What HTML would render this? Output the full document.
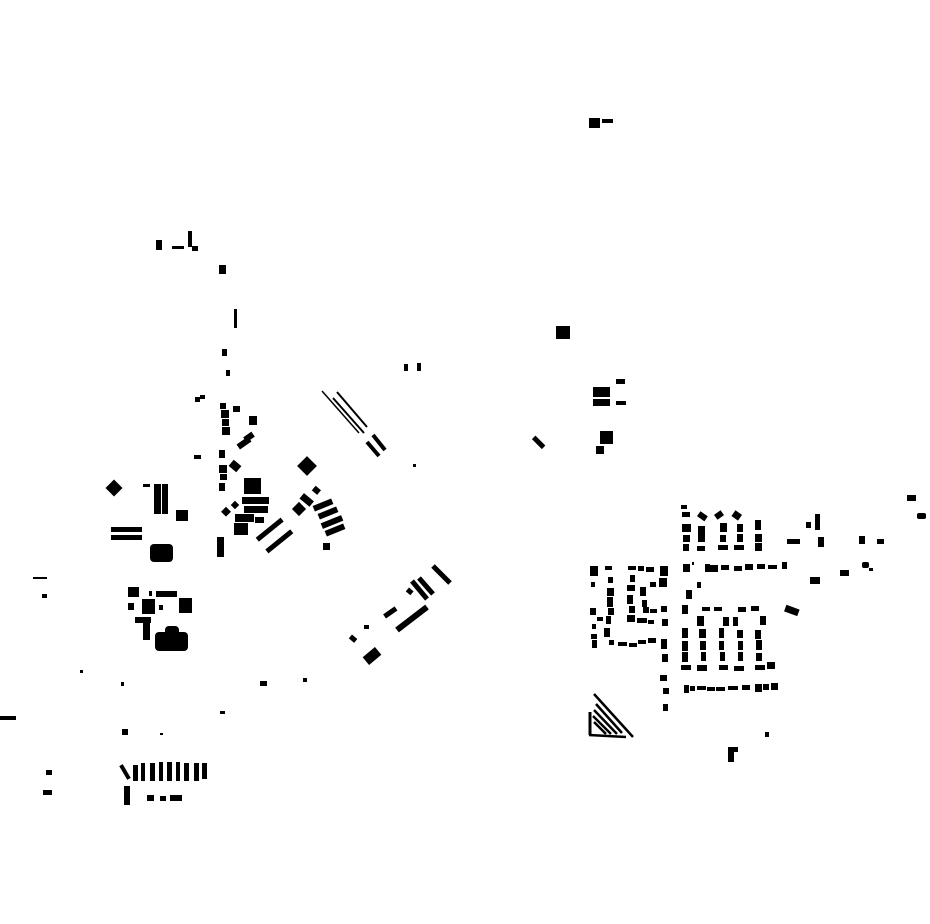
<!DOCTYPE html>
<html><head><meta charset="utf-8"><style>html,body{margin:0;padding:0;background:#fff}svg{display:block}</style></head>
<body>
<svg width="930" height="924" viewBox="0 0 930 924" xmlns="http://www.w3.org/2000/svg">
<g fill="#000">
<rect x="589" y="118" width="11" height="10"/><rect x="602" y="119" width="11" height="4"/>
<rect x="156" y="240" width="6" height="10"/><rect x="172" y="246" width="12" height="3"/><rect x="188" y="231" width="4" height="16"/><rect x="192" y="246" width="6" height="5"/>
<rect x="219" y="265" width="7" height="9"/><rect x="234" y="309" width="3" height="19"/>
<rect x="222" y="349" width="5" height="7"/><rect x="226" y="370" width="4" height="6"/>
<rect x="404" y="364" width="4" height="7"/><rect x="417" y="363" width="4" height="8"/>
<rect x="556" y="326" width="14" height="13"/>
<rect x="593" y="387" width="17" height="10"/><rect x="616" y="379" width="9" height="5"/><rect x="616" y="401" width="10" height="4"/><rect x="593" y="399" width="17" height="7"/>
<rect x="532" y="440" width="14" height="5" transform="rotate(45 539 442)"/>
<rect x="600" y="431" width="13" height="13"/><rect x="596" y="446" width="8" height="8"/>
<rect x="413" y="464" width="3" height="3"/>
<rect x="195" y="397" width="5" height="5"/><rect x="200" y="395" width="5" height="4"/>
<rect x="220" y="403" width="6" height="6"/><rect x="221" y="410" width="8" height="8"/><rect x="222" y="419" width="7" height="7"/><rect x="222" y="427" width="8" height="8"/>
<rect x="233" y="406" width="7" height="6"/><rect x="249" y="416" width="8" height="9"/>
<rect x="237" y="440" width="14" height="6" transform="rotate(-35 244 443)"/><rect x="244" y="434" width="10" height="6" transform="rotate(-35 249 437)"/>
<rect x="194" y="455" width="7" height="4"/>
<rect x="219" y="450" width="6" height="8"/><rect x="219" y="465" width="8" height="8"/><rect x="220" y="474" width="7" height="6"/><rect x="219" y="483" width="6" height="8"/>
<rect x="230" y="462" width="10" height="8" transform="rotate(40 235 466)"/>
<rect x="108" y="482" width="12" height="12" transform="rotate(45 114 488)"/>
<rect x="143" y="484" width="7" height="3"/>
<rect x="154" y="484" width="7" height="30"/><rect x="162" y="484" width="6" height="30"/>
<rect x="176" y="510" width="12" height="11"/>
<rect x="111" y="527" width="31" height="5"/><rect x="111" y="535" width="31" height="5"/>
<rect x="150" y="544" width="23" height="18" rx="4"/>
<rect x="244" y="478" width="17" height="16"/>
<rect x="242" y="497" width="27" height="7"/><rect x="244" y="506" width="24" height="7"/>
<rect x="235" y="514" width="19" height="8"/><rect x="255" y="517" width="9" height="6"/>
<rect x="234" y="523" width="14" height="12"/>
<rect x="223" y="508" width="7" height="7" transform="rotate(45 226 511)"/><rect x="232" y="502" width="6" height="6" transform="rotate(45 235 505)"/>
<rect x="217" y="537" width="7" height="20"/>
<rect x="254" y="527" width="32" height="5" transform="rotate(-39 270 530)"/>
<rect x="263" y="539" width="32" height="5" transform="rotate(-39 279 541)"/>
<rect x="300" y="459" width="14" height="14" transform="rotate(45 307 466)"/>
<rect x="300" y="496" width="13" height="7" transform="rotate(40 306 500)"/><rect x="313" y="487" width="7" height="6" transform="rotate(40 316 490)"/>
<rect x="294" y="504" width="10" height="10" transform="rotate(45 299 509)"/>
<rect x="313" y="502" width="20" height="6" transform="rotate(-22 323 505)"/>
<rect x="318" y="510" width="20" height="6" transform="rotate(-22 328 513)"/>
<rect x="321" y="519" width="22" height="6" transform="rotate(-22 332 522)"/>
<rect x="325" y="527" width="20" height="6" transform="rotate(-22 335 530)"/>
<rect x="323" y="543" width="7" height="7"/>
<line x1="322" y1="391" x2="359" y2="433" stroke="#000" stroke-width="1.5"/>
<line x1="337" y1="392" x2="367" y2="427" stroke="#000" stroke-width="2"/>
<line x1="333" y1="398" x2="364" y2="433" stroke="#000" stroke-width="2"/>
<line x1="367" y1="442" x2="379" y2="456" stroke="#000" stroke-width="4"/>
<line x1="373" y1="435" x2="385" y2="450" stroke="#000" stroke-width="4"/>
<line x1="433" y1="566" x2="450" y2="583" stroke="#000" stroke-width="5"/>
<line x1="412" y1="581" x2="427" y2="599" stroke="#000" stroke-width="5"/>
<line x1="419" y1="578" x2="433" y2="594" stroke="#000" stroke-width="5"/>
<rect x="407" y="589" width="6" height="5" transform="rotate(40 410 591)"/>
<line x1="397" y1="630" x2="427" y2="607" stroke="#000" stroke-width="6"/>
<rect x="383" y="610" width="14" height="5" transform="rotate(-35 390 612)"/>
<rect x="364" y="625" width="5" height="4"/><rect x="350" y="636" width="7" height="5" transform="rotate(40 353 638)"/>
<rect x="364" y="651" width="16" height="10" transform="rotate(-40 372 656)"/>
<rect x="128" y="587" width="11" height="10"/><rect x="128" y="603" width="6" height="7"/>
<rect x="142" y="599" width="13" height="15"/><rect x="149" y="591" width="3" height="5"/>
<rect x="156" y="591" width="21" height="6"/><rect x="159" y="605" width="4" height="5"/>
<rect x="179" y="598" width="13" height="15"/>
<rect x="135" y="617" width="16" height="6"/><rect x="143" y="620" width="7" height="20"/>
<rect x="155" y="632" width="33" height="19" rx="4"/><rect x="165" y="626" width="14" height="10" rx="4"/>
<rect x="33" y="577" width="14" height="2"/><rect x="42" y="594" width="5" height="4"/>
<rect x="80" y="670" width="3" height="3"/><rect x="121" y="682" width="3" height="4"/>
<rect x="0" y="716" width="16" height="4"/><rect x="122" y="729" width="6" height="6"/><rect x="160" y="733" width="3" height="2"/>
<rect x="220" y="711" width="5" height="3"/><rect x="260" y="681" width="7" height="5"/><rect x="303" y="678" width="4" height="4"/>
<rect x="46" y="770" width="6" height="5"/><rect x="43" y="790" width="9" height="5"/>
<rect x="123" y="764" width="4" height="16" transform="rotate(-30 125 772)"/>
<rect x="133" y="765" width="5" height="16"/><rect x="141" y="763" width="4" height="18"/><rect x="150" y="763" width="5" height="18"/>
<rect x="159" y="762" width="4" height="19"/><rect x="167" y="762" width="5" height="19"/><rect x="176" y="762" width="4" height="19"/>
<rect x="184" y="763" width="5" height="18"/><rect x="194" y="763" width="5" height="18"/><rect x="202" y="763" width="5" height="16"/>
<rect x="124" y="786" width="6" height="19"/><rect x="147" y="795" width="7" height="6"/><rect x="160" y="796" width="6" height="5"/><rect x="170" y="795" width="12" height="6"/>
<rect x="681" y="505" width="6" height="4"/><rect x="682" y="512" width="8" height="5"/>
<rect x="698" y="513" width="9" height="6" transform="rotate(35 702 516)"/><rect x="715" y="512" width="8" height="6" transform="rotate(-35 719 515)"/><rect x="733" y="512" width="8" height="7" transform="rotate(35 737 515)"/>
<rect x="682" y="524" width="9" height="8"/><rect x="698" y="526" width="7" height="8"/><rect x="720" y="523" width="7" height="9"/><rect x="737" y="524" width="6" height="8"/><rect x="755" y="520" width="6" height="10"/>
<rect x="683" y="535" width="7" height="7"/><rect x="698" y="533" width="7" height="9"/><rect x="720" y="535" width="6" height="7"/><rect x="737" y="534" width="6" height="8"/><rect x="755" y="534" width="7" height="8"/>
<rect x="683" y="544" width="6" height="7"/><rect x="697" y="546" width="8" height="5"/><rect x="718" y="545" width="10" height="5"/><rect x="734" y="545" width="10" height="5"/><rect x="755" y="543" width="7" height="8"/>
<rect x="787" y="539" width="13" height="5"/><rect x="806" y="522" width="5" height="6"/><rect x="815" y="514" width="5" height="16"/><rect x="818" y="537" width="6" height="10"/>
<rect x="859" y="536" width="6" height="8"/><rect x="877" y="539" width="7" height="5"/>
<rect x="907" y="495" width="9" height="6"/><rect x="917" y="513" width="9" height="6" rx="2"/>
<rect x="683" y="564" width="7" height="8"/><rect x="692" y="562" width="2" height="3"/><rect x="705" y="564" width="5" height="8"/><rect x="710" y="565" width="8" height="7"/>
<rect x="721" y="565" width="8" height="5"/><rect x="745" y="564" width="8" height="6"/><rect x="734" y="566" width="8" height="5"/><rect x="757" y="564" width="8" height="5"/>
<rect x="768" y="565" width="9" height="4"/><rect x="782" y="562" width="5" height="7"/>
<rect x="810" y="577" width="10" height="7"/><rect x="840" y="570" width="9" height="6"/><rect x="862" y="562" width="7" height="6" rx="2"/><rect x="869" y="568" width="4" height="3"/>
<rect x="785" y="607" width="14" height="7" transform="rotate(20 792 610)"/>
<rect x="697" y="582" width="4" height="6"/><rect x="686" y="590" width="6" height="9"/>
<rect x="590" y="566" width="8" height="10"/><rect x="605" y="566" width="7" height="4"/><rect x="628" y="566" width="8" height="4"/><rect x="638" y="566" width="6" height="5"/><rect x="646" y="567" width="8" height="5"/><rect x="660" y="566" width="8" height="10"/>
<rect x="591" y="582" width="4" height="5"/><rect x="608" y="577" width="5" height="6"/><rect x="630" y="575" width="5" height="7"/>
<rect x="607" y="588" width="7" height="8"/><rect x="627" y="585" width="8" height="6"/><rect x="650" y="582" width="6" height="5"/><rect x="659" y="578" width="8" height="9"/>
<rect x="607" y="597" width="6" height="10"/><rect x="627" y="595" width="6" height="9"/><rect x="640" y="587" width="6" height="9"/><rect x="642" y="600" width="5" height="7"/>
<rect x="608" y="608" width="6" height="7"/><rect x="629" y="606" width="6" height="7"/><rect x="643" y="607" width="6" height="6"/>
<rect x="590" y="608" width="6" height="7"/><rect x="597" y="617" width="6" height="4"/><rect x="661" y="606" width="6" height="6"/><rect x="650" y="609" width="7" height="4"/>
<rect x="606" y="616" width="5" height="8"/><rect x="627" y="615" width="8" height="7"/><rect x="637" y="618" width="10" height="5"/><rect x="648" y="620" width="6" height="4"/><rect x="662" y="619" width="6" height="7"/>
<rect x="592" y="624" width="4" height="5"/><rect x="591" y="634" width="6" height="5"/><rect x="592" y="640" width="5" height="8"/>
<rect x="604" y="628" width="6" height="9"/><rect x="609" y="640" width="5" height="5"/><rect x="618" y="642" width="9" height="4"/><rect x="629" y="643" width="8" height="4"/>
<rect x="638" y="640" width="8" height="4"/><rect x="648" y="638" width="8" height="5"/><rect x="661" y="639" width="6" height="10"/>
<rect x="662" y="654" width="6" height="8"/><rect x="660" y="675" width="7" height="6"/><rect x="663" y="688" width="6" height="6"/><rect x="663" y="704" width="5" height="7"/>
<rect x="682" y="605" width="6" height="9"/><rect x="702" y="607" width="8" height="4"/><rect x="714" y="607" width="8" height="4"/><rect x="738" y="607" width="8" height="5"/><rect x="751" y="606" width="8" height="5"/>
<rect x="697" y="616" width="7" height="10"/><rect x="723" y="617" width="6" height="9"/><rect x="733" y="617" width="5" height="9"/><rect x="760" y="616" width="6" height="9"/>
<rect x="682" y="628" width="6" height="10"/><rect x="699" y="629" width="7" height="9"/><rect x="719" y="628" width="5" height="10"/><rect x="737" y="630" width="6" height="8"/><rect x="755" y="630" width="6" height="9"/>
<rect x="682" y="641" width="6" height="10"/><rect x="700" y="641" width="6" height="9"/><rect x="719" y="641" width="5" height="9"/><rect x="738" y="641" width="5" height="9"/><rect x="756" y="640" width="6" height="10"/>
<rect x="682" y="652" width="6" height="10"/><rect x="701" y="652" width="5" height="9"/><rect x="720" y="652" width="5" height="9"/><rect x="738" y="652" width="5" height="9"/><rect x="756" y="653" width="6" height="8"/>
<rect x="681" y="665" width="10" height="5"/><rect x="697" y="665" width="10" height="6"/><rect x="719" y="665" width="9" height="5"/><rect x="734" y="666" width="10" height="5"/><rect x="755" y="665" width="10" height="5"/><rect x="767" y="662" width="8" height="7"/>
<rect x="684" y="685" width="5" height="8"/><rect x="690" y="686" width="5" height="5"/><rect x="697" y="686" width="9" height="4"/><rect x="707" y="687" width="8" height="4"/><rect x="716" y="687" width="9" height="4"/>
<rect x="728" y="686" width="10" height="4"/><rect x="742" y="685" width="8" height="5"/><rect x="755" y="684" width="7" height="8"/><rect x="763" y="684" width="6" height="6"/><rect x="771" y="683" width="7" height="7"/>
<line x1="594" y1="694" x2="633" y2="737" stroke="#000" stroke-width="2.5"/>
<line x1="589" y1="735" x2="626" y2="737" stroke="#000" stroke-width="2.5"/>
<line x1="590" y1="712" x2="590" y2="735" stroke="#000" stroke-width="3"/>
<line x1="594" y1="710" x2="617" y2="734" stroke="#000" stroke-width="2.5"/>
<line x1="593" y1="716" x2="611" y2="734" stroke="#000" stroke-width="2.5"/>
<line x1="594" y1="722" x2="606" y2="734" stroke="#000" stroke-width="2.5"/>
<line x1="596" y1="704" x2="622" y2="733" stroke="#000" stroke-width="2.5"/>
<rect x="765" y="732" width="4" height="5"/>
<rect x="728" y="747" width="10" height="5"/><rect x="728" y="747" width="6" height="15"/>
</g>
</svg>
</body></html>
